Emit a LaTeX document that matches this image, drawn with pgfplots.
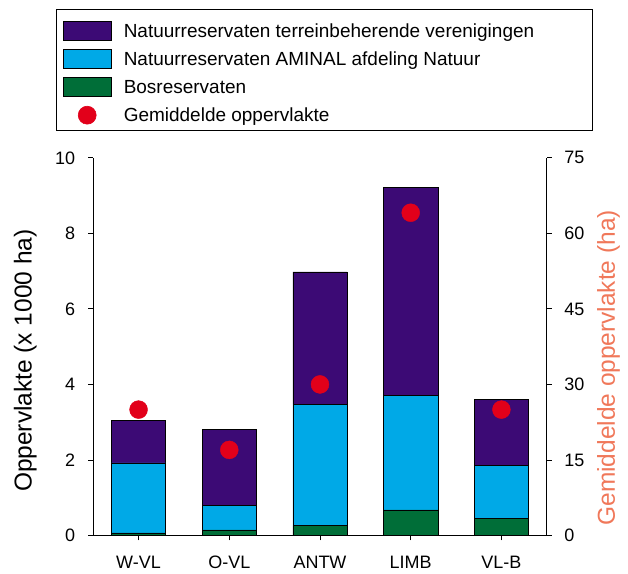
\documentclass[border=0pt]{standalone}
\usepackage{fontspec}
\setmainfont{Liberation Sans}
\usepackage{pgfplots}
\pgfplotsset{compat=1.18}

\definecolor{purp}{RGB}{60,10,117}
\definecolor{cyanb}{RGB}{0,169,231}
\definecolor{grn}{RGB}{0,110,56}
\definecolor{dotred}{RGB}{226,0,26}
\definecolor{salmon}{RGB}{240,120,90}

\pgfplotsset{
  common/.style={
    width=454pt, height=378pt, scale only axis,
    xmin=-0.5, xmax=4.5,
    tick align=outside, major tick length=5pt,
    axis line style={line width=1.3pt, black},
    tick style={line width=0.9pt, black},
    tick label style={font=\fontsize{18}{20}\selectfont},
    /pgf/number format/assume math mode=true,
  },
}

\begin{document}
\begin{tikzpicture}
\begin{axis}[
  common, name=main,
  ymin=0, ymax=10, ytick={0,2,...,10},
  ybar stacked, bar width=54.4pt,
  xtick={0,...,4}, xticklabels={W-VL,O-VL,ANTW,LIMB,VL-B},
  axis x line*=bottom, axis y line*=left,
  yticklabel style={xshift=-9.5pt},
  xticklabel style={yshift=-12pt},
  ylabel={Oppervlakte (x 1000 ha)},
  ylabel style={at={(axis description cs:-0.150,0.463)}, anchor=center,
    font=\fontsize{24.5}{27}\selectfont},
  legend style={at={(rel axis cs:0,1)}, anchor=north west,
    xshift=-37.3pt, yshift=148.7pt, draw=black, line width=0.6pt,
    inner xsep=6.7pt, inner ysep=4pt, row sep=0.5pt, column sep=12.3pt,
    font=\fontsize{19}{22}\selectfont,
    nodes={inner xsep=0pt, inner ysep=0pt, text height=23.6pt, text depth=4.2pt}},
  legend cell align=left,
]
\addplot[fill=grn, draw=black, line width=0.6pt, forget plot] coordinates {(0,0.07) (1,0.15) (2,0.27) (3,0.68) (4,0.45)};
\addplot[fill=cyanb, draw=black, line width=0.6pt, forget plot] coordinates {(0,1.85) (1,0.64) (2,3.20) (3,3.02) (4,1.41)};
\addplot[fill=purp, draw=black, line width=0.6pt, forget plot] coordinates {(0,1.13) (1,2.02) (2,3.51) (3,5.51) (4,1.75)};

\addlegendimage{legend image code/.code={\draw[fill=purp,draw=black,line width=0.6pt] (0pt,-12.4pt) rectangle (48pt,6.6pt);}}
\addlegendentry{\makebox[462pt][l]{Natuurreservaten terreinbeherende verenigingen}}
\addlegendimage{legend image code/.code={\draw[fill=cyanb,draw=black,line width=0.6pt] (0pt,-12.4pt) rectangle (48pt,6.6pt);}}
\addlegendentry{Natuurreservaten AMINAL afdeling Natuur}
\addlegendimage{legend image code/.code={\draw[fill=grn,draw=black,line width=0.6pt] (0pt,-12.4pt) rectangle (48pt,6.6pt);}}
\addlegendentry{Bosreservaten}
\addlegendimage{legend image code/.code={\fill[dotred] (24pt,-2.9pt) circle (9pt);}}
\addlegendentry{Gemiddelde oppervlakte}
\end{axis}

\begin{axis}[
  common,
  ymin=0, ymax=75, ytick={0,15,...,75},
  axis y line*=right, axis x line=none,
  yticklabel style={xshift=9pt},
  ylabel={Gemiddelde oppervlakte (ha)},
  ylabel style={at={(axis description cs:1.136,0.444)}, anchor=center,
    color=salmon, font=\fontsize{24.5}{27}\selectfont},
]
\addplot[only marks, mark=*, mark size=9pt, color=dotred] coordinates {(0,25) (1,17) (2,30) (3,64.1) (4,25)};
\end{axis}

\pgfresetboundingbox
\path ([shift={(-93.3pt,-38pt)}]main.south west) rectangle ([shift={(81.3pt,158pt)}]main.north east);
\end{tikzpicture}
\end{document}
